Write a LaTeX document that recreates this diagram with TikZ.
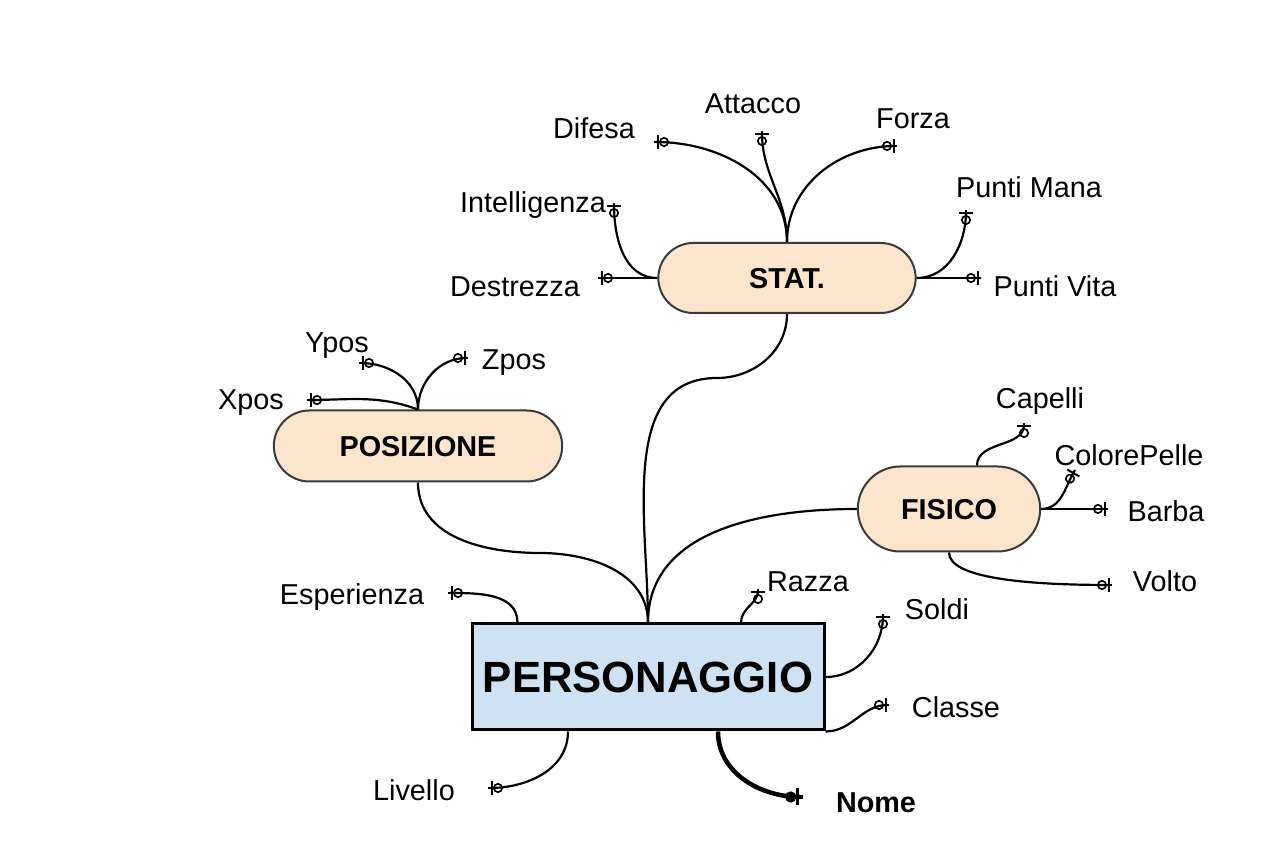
\documentclass[tikz,border=0pt]{standalone}
\usepackage{fontspec}
\setmainfont{Liberation Sans}
\usetikzlibrary{arrows.meta,shapes.misc}
\definecolor{peach}{HTML}{FCE5CD}
\definecolor{lightblue}{HTML}{CFE2F3}
\definecolor{pillborder}{HTML}{3A3A3A}

\begin{document}
\begin{tikzpicture}[x=1pt,y=1pt,line width=2.2pt,
    entity node/.style={rectangle,draw=black,line width=3pt,fill=lightblue,
      minimum width=352pt,minimum height=106pt,text height=31.3pt,text depth=0pt,
      font=\fontsize{43.7}{50}\selectfont\bfseries},
    group node/.style={rounded rectangle,draw=pillborder,line width=2pt,fill=peach,
      minimum height=70pt,text height=20.6pt,text depth=0pt,
      font=\fontsize{28.8}{34}\selectfont\bfseries},
    attr node/.style={inner sep=0pt,text height=20.6pt,text depth=0pt,
      font=\fontsize{28.8}{34}\selectfont},
    attr/.style={-{Circle[open,length=10pt,width=10pt,line width=1.7pt,sep=0.5pt]%
      Bar[width=14pt,line width=2pt,sep=0pt]Rectangle[length=2.5pt,width=2pt]}},
    key/.style={line width=4.5pt,-{Circle[length=11pt,width=11pt,sep=0pt]%
      Bar[width=17pt,line width=2.8pt,sep=0pt]Rectangle[length=4pt,width=4pt]}}]
  \useasboundingbox (0,0) rectangle (1283,841);

  % Nodes
  \node[entity node] (P) at (648,164) {PERSONAGGIO};
  \node[group node,minimum width=264pt] (S) at (787,563) {STAT.};
  \node[group node,minimum width=295pt,minimum height=71pt] (Pos) at (418,395) {POSIZIONE};
  \node[group node,minimum width=189pt,minimum height=85pt] (F) at (949,332) {FISICO};

  \node[attr node] (Dif) at (594,713) {Difesa};
  \node[attr node] (Att) at (753,738) {Attacco};
  \node[attr node] (For) at (913,723) {Forza};
  \node[attr node] (Int) at (533,639) {Intelligenza};
  \node[attr node] (Des) at (515,555) {Destrezza};
  \node[attr node] (Mana) at (1029,654) {Punti Mana};
  \node[attr node] (Vita) at (1055,555) {Punti Vita};
  \node[attr node] (Xp) at (251,442) {Xpos};
  \node[attr node] (Yp) at (337,499) {Ypos};
  \node[attr node] (Zp) at (514,482) {Zpos};
  \node[attr node] (Cap) at (1040,443) {Capelli};
  \node[attr node] (Col) at (1129,386) {ColorePelle};
  \node[attr node] (Bar) at (1166,330) {Barba};
  \node[attr node] (Vol) at (1165,260) {Volto};
  \node[attr node] (Esp) at (352,247) {Esperienza};
  \node[attr node] (Raz) at (808,260) {Razza};
  \node[attr node] (Sol) at (937,232) {Soldi};
  \node[attr node] (Cla) at (956,134) {Classe};
  \node[attr node] (Liv) at (414,51) {Livello};
  \node[attr node,font=\fontsize{28.8}{34}\selectfont\bfseries] (Nome) at (876,39) {Nome};

  % Ends of the attribute lines
  \coordinate (dif) at (654,699);
  \coordinate (att) at (762,710);
  \coordinate (for) at (897,695);
  \coordinate (int) at (614,638);
  \coordinate (des) at (598,563);
  \coordinate (mana) at (966,631);
  \coordinate (vita) at (981,563);
  \coordinate (xpos) at (307,441);
  \coordinate (ypos) at (359,478);
  \coordinate (zpos) at (468,483);
  \coordinate (cap) at (1024,418);
  \coordinate (col) at (1075,371);
  \coordinate (bar) at (1108,332);
  \coordinate (vol) at (1112,256);
  \coordinate (esp) at (448,248);
  \coordinate (raz) at (758,252);
  \coordinate (sol) at (883,227);
  \coordinate (cla) at (889,136);
  \coordinate (liv) at (488,53);
  \coordinate (nome) at (803,44);
  \coordinate (hub1) at (717,463);
  \coordinate (hub2) at (540,288);

  % Edges
  \draw (P.north) to[out=90,in=180] (hub1) to[out=0,in=-90] (S.south);
  \draw (Pos.south) to[out=-90,in=180] (hub2) to[out=0,in=90] (P.north);
  \draw (F.west) to[out=180,in=90] (P.north);

  \draw[attr] (S.north) to[out=90,in=0] (dif);
  \draw[attr] (S.north) to[out=90,in=-90] (att);
  \draw[attr] (S.north) to[out=90,in=180] (for);
  \draw[attr] (S.west) to[out=180,in=-90] (int);
  \draw[attr] (S.west) -- (des);
  \draw[attr] (S.east) to[out=0,in=-90] (mana);
  \draw[attr] (S.east) -- (vita);

  \draw[attr] (Pos.north) to[out=160,in=0] (xpos);
  \draw[attr] (Pos.north) to[out=90,in=0] (ypos);
  \draw[attr] (Pos.north) to[out=90,in=180] (zpos);

  \draw[attr] ([xshift=28]F.north) to[out=90,in=-90] (cap);
  \draw[attr] (F.east) to[out=0,in=-120] (col);
  \draw[attr] (F.east) -- (bar);
  \draw[attr] (F.south) to[out=-90,in=180,out distance=25pt,in distance=90pt] (vol);

  \draw[attr] ([xshift=47]P.north west) to[out=90,in=0] (esp);
  \draw[attr] ([xshift=93]P.north) to[out=90,in=-90] (raz);
  \draw[attr] (P.east) to[out=0,in=-90] (sol);
  \draw[attr] (P.south east) to[out=0,in=180] (cla);
  \draw[attr] ([xshift=-80]P.south) to[out=-90,in=0] (liv);
  \draw[key] ([xshift=70]P.south) to[out=-90,in=180] (nome);
\end{tikzpicture}
\end{document}
